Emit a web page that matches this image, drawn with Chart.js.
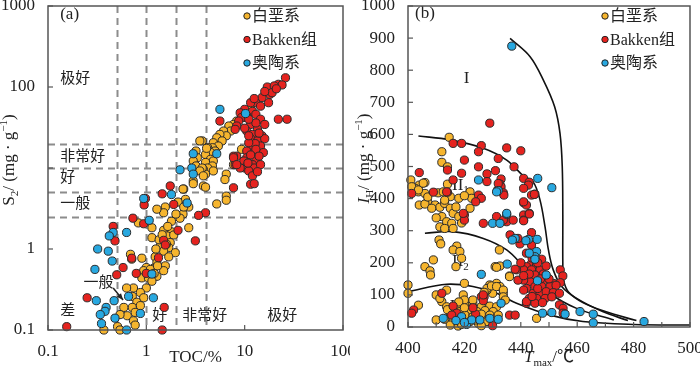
<!doctype html>
<html lang="zh">
<head>
<meta charset="utf-8">
<script src="https://cdn.jsdelivr.net/npm/chart.js"></script>
<style>
  body { margin: 0; background: #fff; }
  .wrap { position: relative; width: 700px; height: 369px; }
  .panel { position: absolute; top: 0; }
</style>
</head>
<body>
<div class="wrap">
  <canvas id="chartA" class="panel" style="left:0" width="350" height="369"></canvas>
  <canvas id="chartB" class="panel" style="left:350px" width="350" height="369"></canvas>
</div>
<script>
// ---------- data (a): TOC (%) vs S2 (mg/g) ----------
var seriesNames = ['白垩系', 'Bakken组', '奥陶系'];
var seriesColors = ['#F6B52E', '#E5231F', '#28A8E0'];

var aBaie = [[11.5,55],[9.8,42],[8.3,38],[7.7,34.5],[6.9,33],[7.2,28.6],[6.1,28.6],[6.5,25],[5.6,26],[5.2,23.6],[5.9,21.6],[4.8,20.5],[5.4,18.7],[4.7,17.8],[4.2,17.8],[5,16.2],[4.5,15.5],[4,14.7],[4.5,12.8],[4.8,12.2],[4,11.7],[4.7,10.6],[4.2,10],[3.8,9.6],[4.8,9.2],[4,8.4],[3.2,16.2],[3.3,13.4],[3,12.2],[3.2,10.6],[3.7,10],[3.5,9.2],[3.8,8],[3,6.9],[2.4,5.5],[3.7,21.6],[6.5,8.4],[6.3,7.2],[9.3,17],[7.7,11],[3.5,21.6],[4.1,17.5],[3.8,6],
  [2.36,5.5],[3,6.4],[4,5.8],[2.5,4.1],[2.1,3.8],[2.7,3.3],[1.56,3.3],[1.5,2.8],[2.36,2.7],[5.2,3.6],[6.5,4.5],[6.5,4],[1.8,2.2],[2.2,2.4],[2.7,1.83],[1.8,1.63],[1.5,1.7],[0.83,2.1],[1.14,1.83],[1.62,1.45],[1.9,1.49],[1.75,1.2],[1.14,1.38],[1.39,1.09],[1.69,1.04],[1.97,0.9],[1.5,0.94],[1.23,0.8],[1.69,0.8],[1.28,0.68],[1.56,0.62],[1.19,0.58],[1.5,0.54],[1.0,0.59],[0.94,0.54],[0.9,0.44],[1.05,0.44],[1.28,0.46],[1.14,0.4],[1.0,0.33],[0.74,0.33],[0.87,0.29],[0.72,0.26],[0.94,0.25],[0.8,0.22],[0.72,0.19],[0.87,0.2],[0.59,0.19],[0.77,0.165],[0.64,0.15],[0.54,0.155],[0.74,0.13],[0.77,0.115],[0.51,0.11],[0.54,0.1],[0.37,0.1],[0.69,0.86],[0.63,0.33],
  [0.71,0.75],[0.9,0.77],[1.1,0.56],[1.2,0.5],[1.3,0.62],[1.35,1.3],[1.45,1.5],[1.6,1.15],[1.25,1.0],[1.65,1.9],[2.0,2.7],[2.4,3.3],[1.28,3.1]];
var aBakken = [[26,130],[22,108],[24,106],[17,100],[20,103],[18,81],[17.5,64],[15,74],[13,64],[11.5,64],[14.5,58],[10,53],[9,48],[12,50],[10.5,44],[13,46],[9.3,42],[8.7,38],[8.3,33],[11.5,34.5],[14.5,40],[16,34.5],[22,40],[27,40],[5.6,38],[8,30],[10.5,28.6],[13.5,30],[12,26],[15,25],[11.5,23],[13.5,21.6],[16,23],[11.8,18.7],[14.5,18.7],[10.5,16.2],[12.5,15.5],[15.5,15.5],[10.5,13.4],[13,12.8],[12,11],[9.8,12.2],[10,10],[12.5,10],[14.5,11],[8.3,14],[7.7,14],[8,11],[9,10],[11,9.2],[12,8],[11.5,6.3],[7.7,5.7],[7.7,13.4],[8.3,11],[19,85],[21,95],[16,88],[12.5,72],[13,36],[11,40],[12.8,20],[11,20.5],[14,27],[10,31],[11,25],[13,17],[14,14],[11.5,14.5],[10.8,11.5],[13.5,9],
  [1.75,6],[1.45,4.8],[1.9,3.55],[0.98,4.2],[0.95,3.5],[0.73,2.4],[0.94,2.05],[0.46,1.9],[0.48,1.26],[12.5,6.4],[4,2.8],[3.4,2.6],[2.1,1.7],[3.15,1.26],[1.5,1.28],[1.56,1.12],[0.71,0.77],[1.33,0.78],[0.58,0.59],[0.79,0.5],[0.5,0.48],[0.25,0.25],[1.52,0.19],[0.155,0.11],[1.45,0.1],[1.0,0.5]];
var aOrdovician = [[5.6,53],[10.2,47],[3,15],[2.9,10],[2.2,9.5],[3,8.4],[5.2,15],[0.94,4.2],[1.8,4.7],[2.6,3.7],[1.07,2.26],[0.46,1.6],[0.63,1.6],[0.32,1.0],[0.41,0.94],[0.45,0.71],[0.3,0.56],[0.31,0.23],[0.39,0.19],[0.38,0.17],[0.34,0.155],[0.48,0.14],[0.35,0.12],[0.63,0.1],[0.66,0.26],[1.18,0.25],[0.87,0.16],[1.14,0.49],[0.47,0.23],[0.42,1.45]];

var tocTicks = [0.1, 1, 10, 100];
var s2Ticks = [0.1, 1, 10, 100, 1000];
var tocClassLines = [0.5, 1, 2, 4];
var s2ClassLines = [2.5, 5, 10, 20];

// ---------- data (b): Tmax (°C) vs IH (mg/g) ----------
var bBaie = [[414.6,591],[412,546],[412,513],[414,499],[401,458],[406,450],[404,442],[402.5,432],[403.7,421],[406,416],[410.7,418],[412.5,421],[415,406],[418,401],[422,421],[422.6,401],[404,380],[407,390],[409.6,380],[411.3,373],[413,385],[415,370],[416,354],[418,344],[422,370],[412,344],[413.7,328],[415.5,323],[411.3,312],[413,307],[416,307],[411,271],[411.6,259],[417.3,252],[416,240],[418.4,235],[419,214],[417,188],[409,209],[406,188],[407.8,175],[408,162],[432.4,240],[430.9,188],[432.6,190],[420,136],[431.4,136],[429,131],[432.6,126],[433.8,105],[430,105],[428,115],[400,131],[400,105],[403.7,68],[410,100],[412,79],[411.3,89],[413.7,115],[419.6,100],[428,120],[429.6,128],[431.4,126],[433.8,115],[433.8,94],[413.7,63],[417.3,58],[420.2,68],[423,74],[426,63],[429,65],[431.4,63],[418.4,48],[421.4,53],[424.4,48],[427.3,51],[430.2,48],[415,43],[417.3,32],[420.2,37],[423,32],[426,32],[429,37],[432,37],[410,22],[413,24],[416,17],[419,17],[422,17],[425,11],[428,17],[415,6],[417.8,3],[426,4],[436,159],[431.4,186],[436,157],[445.6,27],[401.3,437],[403.7,427],[405.4,448],[406,383],[408.4,370],[414,445],[420,409],[413,395],[417,374],[410,340],[407,405],[419,324],[420,84],[423,84],[424,22],[419,8],[426,40],[414,54],[418,78],[427,108],[434.5,84],[420,60]];
var bBakken = [[429,635],[416,572],[419,572],[426,565],[425,546],[435,558],[440,549],[420,520],[414,489],[425,499],[432,525],[437.6,499],[404,481],[419,479],[428,477],[431,487],[416,458],[433,461],[441,463],[443,451],[428,453],[432.6,445],[433,437],[442.7,442],[401.3,416],[409,420],[414,420],[431.8,427],[433.8,418],[425,411],[426,401],[424,390],[441,387],[442,380],[445,414],[420,349],[420,333],[431.4,344],[435,328],[433.8,333],[437.3,333],[441,349],[436.2,287],[439.7,259],[442,230],[426.7,323],[419.6,354],[413.7,421],[432,447],[434,411],[441,390],[443.8,411],[441,333],[443,354],[439,276],[441,432],[444.8,413],[443,352],[441,331],[443.8,294],[443.8,255],[447.4,211],[443.8,198],[445.6,193],[442,188],[441,178],[443.8,178],[446.8,178],[442,159],[445,162],[454,178],[454.9,159],[443.3,141],[448,143],[441,146],[451.5,136],[454,138],[445,126],[447.4,126],[450.4,126],[452.5,130],[442,120],[444.4,105],[446.8,105],[449,110],[451.5,107],[453.7,105],[443,89],[445.6,89],[448.6,89],[451,94],[442,74],[445,74],[447.7,76],[453.7,69],[455,58],[455,43],[438.5,178],[439,146],[441,115],[442,79],[412,105],[426,94],[427,94],[426.7,82],[426.7,100],[416,65],[417.3,43],[415.5,37],[436,37],[438,37],[430,4],[402,53],[401.3,43],[446,200],[448,165],[443,165],[447,150],[449,190],[444,215],[446,120],[450,150],[444,95],[438,180],[440,200],[441,160],[424,40],[423,60]];
var bOrdovician = [[436.8,875],[425,458],[446,463],[451,434],[432,425],[431.4,421],[430,323],[432.6,323],[435,351],[438,276],[442.7,273],[445.6,235],[445,219],[435.2,196],[426,164],[433,74],[412.5,27],[419,32],[420.8,8],[422.6,22],[425.5,22],[429,27],[432,24],[435,354],[437,271],[441.8,269],[443,230],[445,211],[449,162],[445.9,144],[447.7,43],[451,45],[455.7,40],[461,48],[465.7,40],[465.7,13],[483.7,17],[445.8,273],[417,20],[420,14]];

// kerogen type boundaries
var curveI = [[436.2,899],[443.3,842],[448,769],[452,686],[453.9,603],[454.7,500],[454.9,350],[454.9,200],[455.2,145],[457,108],[462,76],[470,48],[481,20]];
var curveII1 = [[403.7,595],[414.9,583],[426.7,557],[435,520],[441,470],[444.4,452],[446.8,396],[448.6,312],[449.8,240],[451.5,178],[454.5,126],[459.8,89],[469,48],[478,20]];
var curveII2 = [[406,292],[416,297],[426.7,276],[435,240],[441,188],[445.6,146],[450,106],[459.8,58],[473,22]];
var curveIII = [[400,110],[413.7,133],[423,126],[431.4,105],[438.5,74],[450.4,37],[462,17],[480,8],[500,6]];

var tmaxMin = 400, tmaxMax = 500, tmaxStep = 10, tmaxLabelStep = 20;
var hiMin = 0, hiMax = 1000, hiStep = 100;

var serif = "'Liberation Serif', 'Noto Sans CJK SC', serif";
function f(size, italic) { return (italic ? 'italic ' : '') + size + 'px ' + serif; }
function pts(arr) { return arr.map(function (p) { return {x: p[0], y: p[1]}; }); }

function drawRich(ctx, parts, cx, cy, angle) {
    ctx.save();
    ctx.translate(cx, cy);
    ctx.rotate(angle || 0);
    ctx.textBaseline = 'middle';
    ctx.textAlign = 'left';
    var w = 0;
    parts.forEach(function (p) { ctx.font = f(p[1], p[3]); w += ctx.measureText(p[0]).width; });
    var x0 = -w / 2;
    parts.forEach(function (p) {
        ctx.font = f(p[1], p[3]);
        ctx.fillText(p[0], x0, p[2] || 0);
        x0 += ctx.measureText(p[0]).width;
    });
    ctx.restore();
}

var decor = {
    id: 'decor',
    beforeDatasetsDraw: function (chart, args, o) {
        var ctx = chart.ctx, a = chart.chartArea, x = chart.scales.x, y = chart.scales.y;
        ctx.save();
        ctx.strokeStyle = '#8c8c8c';
        ctx.lineWidth = 2;
        ctx.setLineDash([7, 5]);
        (o.vLines || []).forEach(function (v) {
            var px = Math.round(x.getPixelForValue(v)) + 0.5;
            ctx.beginPath(); ctx.moveTo(px, a.top); ctx.lineTo(px, a.bottom); ctx.stroke();
        });
        (o.hLines || []).forEach(function (v) {
            var py = Math.round(y.getPixelForValue(v)) + 0.5;
            ctx.beginPath(); ctx.moveTo(a.left, py); ctx.lineTo(a.right, py); ctx.stroke();
        });
        ctx.setLineDash([]);
        ctx.fillStyle = '#222';
        (o.labels || []).forEach(function (l) {
            var px = x.getPixelForValue(l.x), py = y.getPixelForValue(l.y);
            if (l.align === 'left') {
                ctx.font = f(l.size || 15);
                ctx.textAlign = 'left'; ctx.textBaseline = 'middle';
                ctx.fillText(l.t, px, py);
            } else {
                drawRich(ctx, l.parts, px, py);
            }
        });
        if (o.arrow) {
            var x1 = x.getPixelForValue(o.arrow[0]), y1 = y.getPixelForValue(o.arrow[1]);
            var x2 = x.getPixelForValue(o.arrow[2]), y2 = y.getPixelForValue(o.arrow[3]);
            var ang = Math.atan2(y2 - y1, x2 - x1);
            ctx.strokeStyle = '#222'; ctx.lineWidth = 1.5;
            ctx.beginPath(); ctx.moveTo(x1, y1); ctx.lineTo(x2, y2); ctx.stroke();
            ctx.beginPath();
            ctx.moveTo(x2, y2);
            ctx.lineTo(x2 - 7 * Math.cos(ang - 0.4), y2 - 7 * Math.sin(ang - 0.4));
            ctx.lineTo(x2 - 7 * Math.cos(ang + 0.4), y2 - 7 * Math.sin(ang + 0.4));
            ctx.closePath(); ctx.fill();
        }
        ctx.restore();
    },
    afterDraw: function (chart, args, o) {
        var ctx = chart.ctx, a = chart.chartArea, x = chart.scales.x, y = chart.scales.y;
        ctx.save();
        ctx.strokeStyle = '#555';
        ctx.lineWidth = 1.5;
        ctx.strokeRect(a.left, a.top, a.right - a.left, a.bottom - a.top);
        ctx.lineWidth = 1.2;
        x.ticks.forEach(function (t) {
            var px = x.getPixelForValue(t.value);
            ctx.beginPath(); ctx.moveTo(px, a.bottom); ctx.lineTo(px, a.bottom - 5); ctx.stroke();
        });
        y.ticks.forEach(function (t) {
            var py = y.getPixelForValue(t.value);
            ctx.beginPath(); ctx.moveTo(a.left, py); ctx.lineTo(a.left + 5, py); ctx.stroke();
        });
        ctx.fillStyle = '#222';
        drawRich(ctx, o.xTitle, (a.left + a.right) / 2, 358);
        drawRich(ctx, o.yTitle, o.yTitleX, (a.top + a.bottom) / 2 - 8, -Math.PI / 2);
        // legend
        seriesNames.forEach(function (name, i) {
            var lx = a.right - o.legendRight, ly = a.top + 10 + i * 23.5;
            ctx.beginPath(); ctx.arc(lx, ly, 3.2, 0, Math.PI * 2);
            ctx.fillStyle = seriesColors[i]; ctx.fill();
            ctx.strokeStyle = '#222'; ctx.lineWidth = 1; ctx.stroke();
            ctx.fillStyle = '#222';
            ctx.font = f(16);
            ctx.textAlign = 'left'; ctx.textBaseline = 'middle';
            ctx.fillText(name, lx + 5, ly + 1);
        });
        ctx.restore();
    }
};

function pointSets(baie, bakken, ordo) {
    var list = [ordo, bakken, baie];
    var idx = [2, 1, 0];
    return list.map(function (arr, k) {
        return {
            label: seriesNames[idx[k]],
            data: pts(arr),
            backgroundColor: seriesColors[idx[k]],
            borderColor: '#2a2a2a',
            borderWidth: 1,
            pointRadius: 4.1,
            clip: false
        };
    });
}

function curveSet(arr) {
    return {
        data: pts(arr), showLine: true, pointRadius: 0, borderColor: '#111',
        borderWidth: 1.6, tension: 0.35, fill: false, order: 10, clip: false
    };
}

var tickFont = {family: serif, size: 17};

// ---------- chart (a) ----------
new Chart(document.getElementById('chartA'), {
    type: 'scatter',
    data: {datasets: pointSets(aBaie, aBakken, aOrdovician)},
    plugins: [decor],
    options: {
        responsive: false,
        animation: false,
        events: [],
        layout: {padding: {left: 0, right: 7, top: 6, bottom: 0}},
        plugins: {
            legend: {display: false},
            tooltip: {enabled: false},
            decor: {
                vLines: tocClassLines,
                hLines: s2ClassLines,
                labels: [
                    {t: '(a)', x: 0.133, y: 780, align: 'left', size: 17},
                    {t: '极好', x: 0.133, y: 125, align: 'left'},
                    {t: '非常好', x: 0.133, y: 13.8, align: 'left'},
                    {t: '好', x: 0.133, y: 7.6, align: 'left'},
                    {t: '一般', x: 0.133, y: 3.6, align: 'left'},
                    {t: '差', x: 0.133, y: 0.17, align: 'left'},
                    {t: '一般', x: 0.229, y: 0.375, align: 'left'},
                    {t: '好', x: 1.15, y: 0.15, align: 'left'},
                    {t: '非常好', x: 2.32, y: 0.15, align: 'left'},
                    {t: '极好', x: 17, y: 0.15, align: 'left'}
                ],
                arrow: [0.46, 0.33, 0.58, 0.235],
                xTitle: [['TOC/%', 17]],
                yTitle: [['S', 17], ['2', 11, 5], ['/ (mg · g', 17], ['−1', 11, -6], [')', 17]],
                yTitleX: 10,
                legendRight: 96
            }
        },
        scales: {
            x: {
                type: 'logarithmic', min: 0.1, max: 100,
                afterBuildTicks: function (s) { s.ticks = tocTicks.map(function (v) { return {value: v}; }); },
                afterFit: function (s) { s.height = 39; s.paddingLeft = 0; s.paddingRight = 0; },
                ticks: {font: tickFont, color: '#222', padding: 3, maxRotation: 0, autoSkip: false,
                    callback: function (v) { return String(v); }},
                grid: {display: false}, border: {display: false}
            },
            y: {
                type: 'logarithmic', min: 0.1, max: 1000,
                afterBuildTicks: function (s) { s.ticks = s2Ticks.map(function (v) { return {value: v}; }); },
                afterFit: function (s) { s.width = 48; s.paddingTop = 0; s.paddingBottom = 0; },
                ticks: {font: tickFont, color: '#222', padding: 5, autoSkip: false,
                    callback: function (v) { return v === 10 ? '' : String(v); }},
                grid: {display: false}, border: {display: false}
            }
        }
    }
});

// ---------- chart (b) ----------
var setsB = pointSets(bBaie, bBakken, bOrdovician)
    .concat([curveSet(curveI), curveSet(curveII1), curveSet(curveII2), curveSet(curveIII)]);

new Chart(document.getElementById('chartB'), {
    type: 'scatter',
    data: {datasets: setsB},
    plugins: [decor],
    options: {
        responsive: false,
        animation: false,
        events: [],
        layout: {padding: {left: 0, right: 10, top: 6, bottom: 0}},
        plugins: {
            legend: {display: false},
            tooltip: {enabled: false},
            decor: {
                labels: [
                    {t: '(b)', x: 402.5, y: 975, align: 'left', size: 17},
                    {parts: [['I', 17]], x: 420.8, y: 775},
                    {parts: [['II', 17], ['1', 11, 5]], x: 418.6, y: 442},
                    {parts: [['II', 17], ['2', 11, 5]], x: 418.6, y: 203},
                    {parts: [['III', 17]], x: 417.8, y: 65}
                ],
                xTitle: [['T', 17, 0, true], ['max', 11, 5], ['/℃', 17]],
                yTitle: [['I', 17, 0, true], ['H', 11, 5], ['/ (mg · g', 17], ['−1', 11, -6], [')', 17]],
                yTitleX: 15,
                legendRight: 85
            }
        },
        scales: {
            x: {
                type: 'linear', min: tmaxMin, max: tmaxMax,
                afterFit: function (s) { s.height = 42; s.paddingLeft = 0; s.paddingRight = 0; },
                ticks: {stepSize: tmaxStep, font: tickFont, color: '#222', padding: 3, maxRotation: 0, autoSkip: false,
                    callback: function (v) { return v % tmaxLabelStep === 0 ? String(v) : ''; }},
                grid: {display: false}, border: {display: false}
            },
            y: {
                type: 'linear', min: hiMin, max: hiMax,
                afterFit: function (s) { s.width = 58; s.paddingTop = 0; s.paddingBottom = 0; },
                ticks: {stepSize: hiStep, font: tickFont, color: '#222', padding: 5, autoSkip: false,
                    callback: function (v) { return String(v); }},
                grid: {display: false}, border: {display: false}
            }
        }
    }
});
</script>
</body>
</html>
